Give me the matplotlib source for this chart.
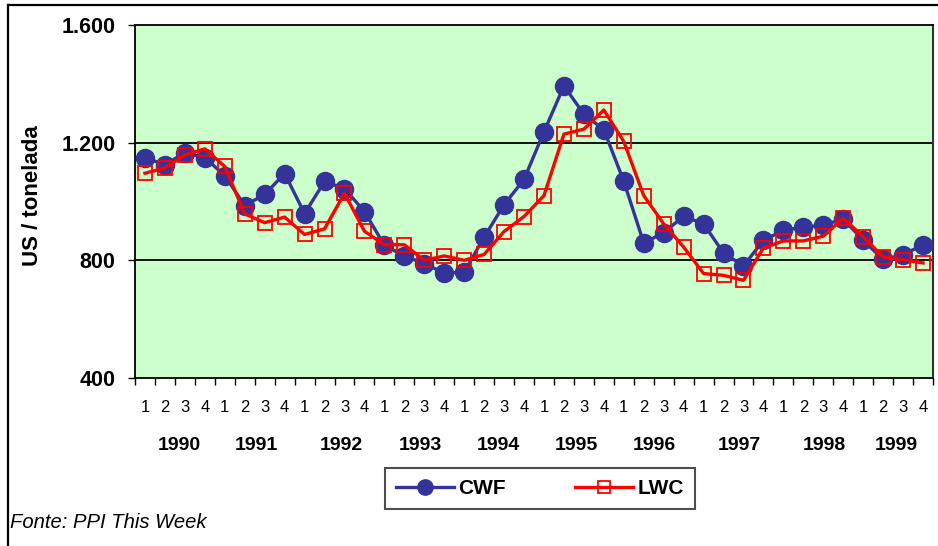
import matplotlib
matplotlib.use("Agg")
import matplotlib.pyplot as plt
from matplotlib.lines import Line2D

plt.rcParams['font.family'] = ['Liberation Sans', 'DejaVu Sans']

years = ["1990", "1991", "1992", "1993", "1994", "1995", "1996", "1997", "1998", "1999"]
quarters = ["1", "2", "3", "4"]
cwf = [1149, 1125, 1166, 1149, 1088, 986, 1024, 1095, 959, 1068, 1044, 966,
       851, 815, 789, 757, 760, 879, 989, 1075, 1237, 1393, 1297, 1244,
       1069, 859, 894, 950, 924, 825, 781, 868, 902, 913, 919, 941,
       868, 803, 819, 853]
lwc = [1096, 1114, 1158, 1179, 1119, 958, 928, 947, 888, 907, 1028, 899,
       853, 853, 800, 815, 800, 820, 898, 949, 1020, 1229, 1246, 1311,
       1204, 1020, 924, 845, 755, 749, 732, 842, 866, 866, 882, 943,
       881, 811, 802, 791]
yticks = [400, 800, 1200, 1600]
ytick_labels = ["400", "800", "1.200", "1.600"]
year_label_pos = [1.7, 5.6, 9.85, 13.8, 17.7, 21.6, 25.55, 29.8, 34.05, 37.65]

W, H = 938, 546
fig = plt.figure(figsize=(W / 100, H / 100), dpi=100)
ax = fig.add_axes([135 / W, 1 - 378 / H, (933 - 135) / W, (378 - 25) / H])
ax.set_facecolor('#CCFFCC')

x = list(range(len(cwf)))
ax.plot(x, cwf, color='#333399', lw=2.4, marker='o', ms=13, mfc='#333399',
        mec='#333399', zorder=3, label='CWF')
ax.plot(x, lwc, color='#FF0000', lw=2.4, marker='s', ms=9.5, mfc='none',
        mec='#FF0000', mew=1.3, zorder=4, label='LWC')

ax.set_ylim(400, 1600)
ax.set_xlim(-0.5, len(cwf) - 0.5)
ax.set_yticks(yticks)
ax.set_yticklabels(ytick_labels, fontsize=15.5, fontweight='bold')
for v in yticks[1:3]:
    ax.axhline(v, color='black', lw=1.3, zorder=1)

# x axis: ticks at boundaries, labels at centers
ax.set_xticks([i - 0.5 for i in range(len(cwf) + 1)])
ax.set_xticklabels([])
ax.set_xticks(x, minor=True)
ax.set_xticklabels([q for _ in years for q in quarters], minor=True, fontsize=12)
ax.tick_params(axis='x', which='major', length=5, width=1, direction='out')
ax.tick_params(axis='x', which='minor', length=0, pad=16)
ax.tick_params(axis='y', length=5, width=1, direction='out', pad=9)

for s in ['left', 'bottom', 'top']:
    ax.spines[s].set_color('black')
    ax.spines[s].set_linewidth(1.3)
ax.spines['right'].set_color('#333333')
ax.spines['right'].set_linewidth(1.5)

for lab, p in zip(years, year_label_pos):
    ax.text(p, -0.19, lab, transform=ax.get_xaxis_transform(), ha='center', va='center',
            fontsize=14, fontweight='bold')

fig.text(33 / W, 1 - 196 / H, "US / tonelada", rotation=90, ha='center', va='center',
         fontsize=16, fontweight='bold')

fig.text(10 / W, 1 - 522 / H, "Fonte: PPI This Week", ha='left', va='center',
         fontsize=14.6, style='italic')

# legend
handles = [Line2D([], [], color='#333399', lw=2.4, marker='o', ms=11, mfc='#333399', mec='#333399'),
           Line2D([], [], color='#FF0000', lw=2.4, marker='s', ms=9, mfc='none', mec='#FF0000', mew=1.3)]
leg = fig.legend(handles, ['CWF', 'LWC'], loc='center', bbox_to_anchor=(540 / W, 1 - 488.5 / H),
                 ncol=2, frameon=True, fancybox=False, handlelength=2.8, handletextpad=0.2,
                 columnspacing=3.3, borderpad=0.55, borderaxespad=0,
                 prop={'size': 15, 'weight': 'bold'})
leg.get_frame().set_edgecolor('#222222')
leg.get_frame().set_linewidth(1.5)

# outer frame
fig.add_artist(Line2D([7.5 / W, 7.5 / W], [0, 1 - 5 / H], transform=fig.transFigure, color='black', lw=1.6))
fig.add_artist(Line2D([7.5 / W, 1], [1 - 5 / H, 1 - 5 / H], transform=fig.transFigure, color='black', lw=1.6))

fig.savefig("out.png", dpi=100)
